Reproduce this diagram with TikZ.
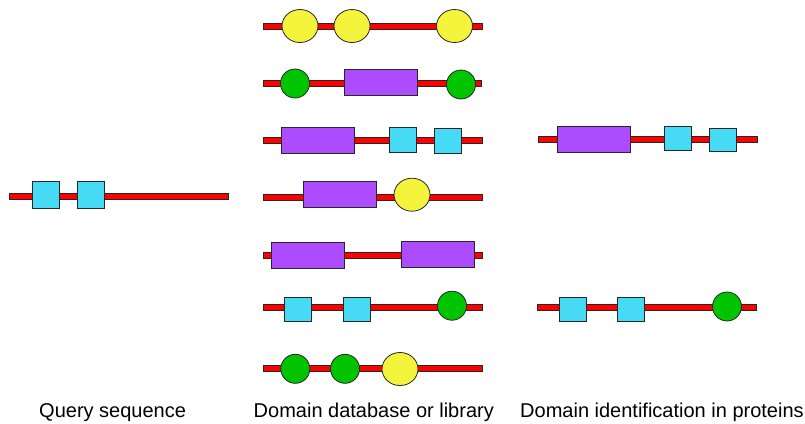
\documentclass[tikz,border=0pt]{standalone}
\usepackage{fontspec}
\setmainfont{Liberation Sans}
\usetikzlibrary{shapes.geometric}

\definecolor{chain}{HTML}{FF0000}
\definecolor{sq}{HTML}{47DAF5}
\definecolor{lila}{HTML}{AD4BFF}
\definecolor{gelb}{HTML}{F4F43C}
\definecolor{gruen}{HTML}{00C400}

\begin{document}
\begin{tikzpicture}[x=1pt,y=-1pt,line width=0.8pt,
	bar/.style={draw=black!85,fill=chain},
	dom/.style={draw=black!85,fill=sq,inner sep=0,minimum width=27,minimum height=25},
	longdom/.style={draw=black!85,fill=lila,inner sep=0,minimum width=73,minimum height=26},
	ell/.style={ellipse,draw=black!85,fill=gelb,inner sep=0,minimum width=36,minimum height=33},
	ball/.style={circle,draw=black!85,fill=gruen,inner sep=0,minimum size=29},
	caption/.style={anchor=base west,font=\fontsize{20}{22}\selectfont}]
	\useasboundingbox (0,0) rectangle (805,423);
	% query
	\draw[bar] (9,193) rectangle (228,199);
	\node[dom,minimum height=27] (q1) at (46,195) {};
	\node[dom,minimum height=27] (q2) at (91,195) {};
	% library
	\draw[bar] (263,23) rectangle (482,29);
	\node[ell] (a1) at (300,26) {};
	\node[ell] (a2) at (352,26) {};
	\node[ell] (a3) at (454.5,26) {};
	\draw[bar] (263,80) rectangle (481,86);
	\node[ball] (b1) at (295,83.5) {};
	\node[longdom] (b2) at (380.5,82) {};
	\node[ball] (b3) at (461,84.5) {};
	\draw[bar] (263,137) rectangle (482,143);
	\node[longdom] (c1) at (318,140.3) {};
	\node[dom] (c2) at (402.5,139.5) {};
	\node[dom] (c3) at (448,140.8) {};
	\draw[bar] (263,194) rectangle (482,200);
	\node[longdom] (d1) at (339.5,194.3) {};
	\node[ell] (d2) at (412,194.7) {};
	\draw[bar] (263,252) rectangle (482,258);
	\node[longdom] (e1) at (308,255) {};
	\node[longdom] (e2) at (438,254) {};
	\draw[bar] (263,304.5) rectangle (482,310.5);
	\node[dom,minimum height=24] (f1) at (298,309) {};
	\node[dom,minimum height=24] (f2) at (356.5,309.3) {};
	\node[ball] (f3) at (452,305.7) {};
	\draw[bar] (263,365.5) rectangle (482,371.5);
	\node[ball] (g1) at (295.3,368.8) {};
	\node[ball] (g2) at (345,368.8) {};
	\node[ell] (g3) at (400,369) {};
	% hits
	\draw[bar] (538,136) rectangle (757,142);
	\node[longdom] (h1) at (593.5,139.3) {};
	\node[dom,minimum height=24] (h2) at (677.5,138.5) {};
	\node[dom,minimum height=23] (h3) at (723,139.7) {};
	\draw[bar] (537,304) rectangle (756,310);
	\node[dom,minimum height=24] (i1) at (572.5,309) {};
	\node[dom,minimum height=24] (i2) at (631,309.5) {};
	\node[ball] (i3) at (727,306.5) {};
	% captions
	\node[caption] (t1) at (35.5,417) {Query sequence};
	\node[caption] (t2) at (250,417) {Domain database or library};
	\node[caption] (t3) at (516.5,417) {Domain identification in proteins};
\end{tikzpicture}
\end{document}
